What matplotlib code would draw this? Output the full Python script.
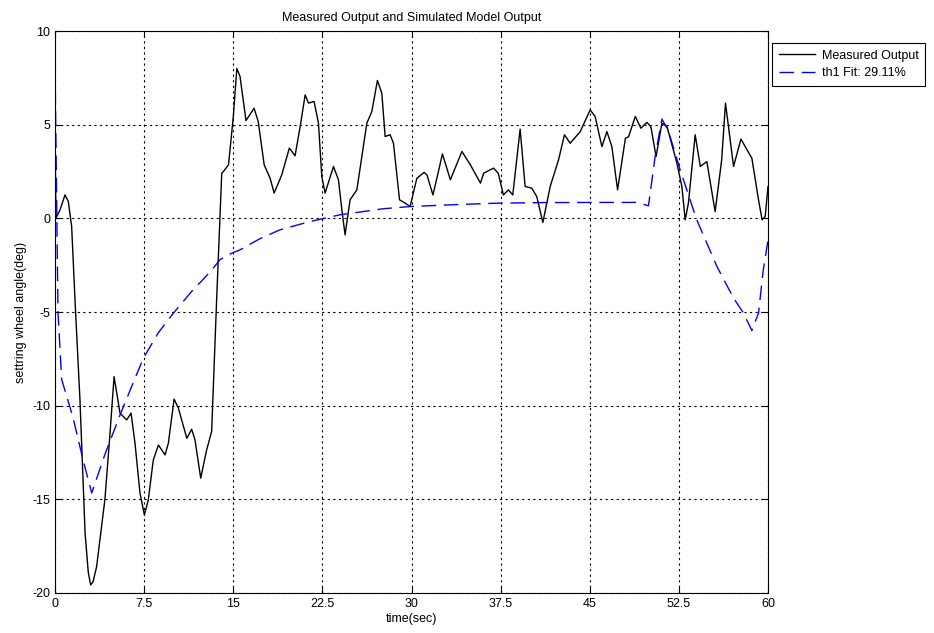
import matplotlib.pyplot as plt

plt.rcParams['font.family'] = ['Liberation Sans', 'DejaVu Sans']
plt.rcParams['axes.unicode_minus'] = False

# measured steering angle (deg) vs time (s)
t_meas = [0.0, 0.08, 0.42, 0.84, 1.12, 1.4, 1.7, 2.1, 2.53, 2.8, 3.0, 3.2, 3.5, 4.2,
          4.63, 4.97, 5.47, 6.03, 6.4, 6.73, 7.15, 7.52, 7.85, 8.27, 8.7, 9.26, 9.54,
          10.02, 10.38, 11.09, 11.5, 11.78, 12.26, 12.76, 13.18, 13.6, 14.03, 14.17,
          14.6, 15.0, 15.3, 15.57, 16.07, 16.75, 17.1, 17.6, 18.1, 18.44, 19.08, 19.72,
          20.2, 20.63, 21.05, 21.33, 21.8, 22.17, 22.45, 22.73, 23.43, 23.85, 24.14,
          24.41, 24.83, 25.4, 26.24, 26.66, 27.13, 27.5, 27.78, 28.2, 28.48, 28.99,
          29.47, 29.88, 30.45, 31.06, 31.3, 31.8, 32.2, 32.6, 33.27, 34.24, 34.95, 35.8,
          36.07, 36.9, 37.3, 37.73, 38.15, 38.52, 39.14, 39.56, 40.12, 40.54, 41.05,
          41.67, 42.37, 42.87, 43.35, 44.2, 45.03, 45.45, 46.02, 46.44, 46.86, 47.34,
          48.0, 48.26, 48.83, 49.3, 49.8, 50.14, 50.58, 51.07, 51.5, 52.33, 52.75,
          53.03, 53.3, 53.87, 54.3, 54.85, 55.55, 56.1, 56.42, 57.1, 57.72, 58.64,
          59.2, 59.5, 59.76, 60.0]
y_meas = [4.5, 0.0, 0.45, 1.25, 0.9, -0.44, -4.6, -9.7, -16.8, -18.9, -19.57, -19.4,
          -18.6, -15.0, -11.47, -8.45, -10.4, -10.76, -10.4, -12.0, -14.67, -15.83,
          -15.03, -12.9, -12.1, -12.63, -12.0, -9.65, -10.13, -11.74, -11.26, -11.83,
          -13.87, -12.36, -11.38, -4.35, 2.41, 2.5, 2.86, 5.4, 8.0, 7.57, 5.22, 5.88,
          5.17, 2.86, 2.14, 1.35, 2.32, 3.75, 3.34, 4.9, 6.59, 6.15, 6.24, 5.08, 2.23,
          1.35, 2.77, 2.06, 0.45, -0.88, 0.99, 1.52, 5.08, 5.7, 7.36, 6.68, 4.37, 4.46,
          4.01, 0.99, 0.81, 0.63, 2.14, 2.45, 2.32, 1.25, 2.32, 3.44, 2.06, 3.57, 2.86,
          1.88, 2.41, 2.68, 2.41, 1.25, 1.52, 1.25, 4.76, 1.7, 1.61, 1.16, -0.22, 1.7,
          3.12, 4.46, 4.01, 4.63, 5.79, 5.44, 3.83, 4.63, 3.83, 1.52, 4.28, 4.35, 5.44,
          4.81, 5.12, 4.9, 3.3, 5.08, 4.9, 2.95, 1.7, -0.08, 0.81, 4.46, 2.77, 3.03,
          0.36, 3.12, 6.15, 2.77, 4.23, 3.21, 0.99, -0.08, 0.1, 1.7]

# simulated model output (th1)
t_sim = [0.0, 0.12, 0.25, 0.56, 1.5, 2.4, 3.09, 4.2, 5.47, 6.5, 7.43, 8.7, 9.96, 11.5,
         13.0, 13.9, 14.87, 15.57, 17.2, 18.94, 21.46, 23.99, 27.6, 29.88, 33.2, 37.18,
         41.0, 45.87, 48.96, 49.94, 50.5, 51.07, 51.6, 52.6, 54.0, 55.7, 57.1, 57.94,
         58.64, 59.2, 59.6, 60.0]
y_sim = [8.1, 1.9, -5.0, -8.6, -10.6, -13.0, -14.66, -12.6, -10.5, -8.9, -7.47, -6.1,
         -5.06, -3.9, -2.9, -2.2, -1.86, -1.68, -1.1, -0.61, -0.17, 0.19, 0.51, 0.63,
         0.72, 0.81, 0.84, 0.85, 0.85, 0.67, 3.3, 5.3, 4.7, 2.6, -0.08, -2.57, -4.26,
         -5.06, -5.99, -5.06, -2.75, -1.15]

x_ticks = [0, 7.5, 15, 22.5, 30, 37.5, 45, 52.5, 60]
x_tick_labels = ['0', '7.5', '15', '22.5', '30', '37.5', '45', '52.5', '60']
y_ticks = [-20, -15, -10, -5, 0, 5, 10]

fig = plt.figure(figsize=(9.34, 6.33), dpi=100)
ax = fig.add_axes([0.0589, 0.0632, 0.7634, 0.8878])

ax.plot(t_meas, y_meas, color='k', lw=1.0, label='Measured Output')
ax.plot(t_sim, y_sim, color='#0000FF', lw=1.0, dashes=(10.5, 5.5), label='th1 Fit: 29.11%')

ax.set_xlim(0, 60)
ax.set_ylim(-20, 10)
ax.set_xticks(x_ticks)
ax.set_xticklabels(x_tick_labels)
ax.set_yticks(y_ticks)
ax.tick_params(direction='in', labelsize=9, length=4, top=True, right=True)
ax.grid(True, color='k', linestyle=(0, (2, 3)), linewidth=0.8)

ax.set_title('Measured Output and Simulated Model Output', fontsize=9, pad=7)
ax.set_xlabel('time(sec)', fontsize=9, labelpad=2)
ax.set_ylabel('settring wheel angle(deg)', fontsize=9, labelpad=4)

leg = ax.legend(loc='upper left', bbox_to_anchor=(1.006, 0.978), fontsize=9,
                fancybox=False, edgecolor='k', framealpha=1, borderaxespad=0,
                handlelength=2.95, handletextpad=0.5, borderpad=0.5, labelspacing=0.45)
leg.get_frame().set_linewidth(0.8)

fig.savefig('out.png', dpi=100)
